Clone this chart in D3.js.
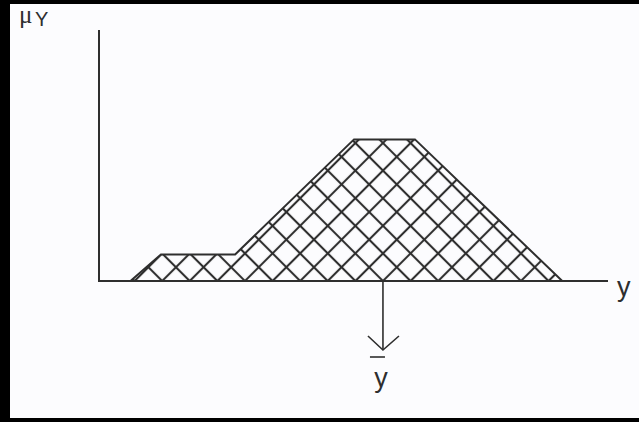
<!DOCTYPE html>
<html>
<head>
<meta charset="utf-8">
<script src="https://cdn.jsdelivr.net/npm/d3@7"></script>
<style>
  html, body { margin: 0; padding: 0; background: #fcfcfe; }
  svg { display: block; }
</style>
</head>
<body>
<div id="chart"></div>
<script>
// Aggregated output membership function: breakpoints on the output universe y
const yPoints = [6, 12, 26.6, 50, 62, 91];
// Membership degree at each breakpoint
const muPoints = [0, 0.15, 0.15, 0.8, 0.8, 0];
// Defuzzified (centroid) output value
const centroid = [55.7];
// Axis labels
const axisLabels = ["μ", "Y", "y"];

const W = 639, H = 422;
const ink = "#2e2e2e";

const svg = d3.select("#chart").append("svg")
  .attr("width", W).attr("height", H);

svg.append("rect").attr("width", W).attr("height", H).attr("fill", "#fcfcfe");

// frame
svg.append("rect").attr("x", 0).attr("y", 0).attr("width", 10).attr("height", H).attr("fill", "#000");
svg.append("rect").attr("x", 0).attr("y", 0).attr("width", W).attr("height", 4).attr("fill", "#000");
svg.append("rect").attr("x", 0).attr("y", H - 4).attr("width", W).attr("height", 4).attr("fill", "#000");

const x = d3.scaleLinear().domain([0, 100]).range([100, 608]);
const y = d3.scaleLinear().domain([0, 1]).range([281, 104]);

// crosshatch pattern (±45° lines); lines drawn on both pattern edges so they keep full width
const spacing = 27.6 / Math.SQRT2;
const defs = svg.append("defs");
const pat = defs.append("pattern")
  .attr("id", "hatch")
  .attr("patternUnits", "userSpaceOnUse")
  .attr("width", spacing).attr("height", spacing)
  .attr("patternTransform", `translate(${x(centroid[0])},${y(0)}) rotate(45)`);
[0, spacing].forEach(o => {
  pat.append("line").attr("x1", 0).attr("y1", o).attr("x2", spacing).attr("y2", o)
    .attr("stroke", ink).attr("stroke-width", 2.1);
  pat.append("line").attr("x1", o).attr("y1", 0).attr("x2", o).attr("y2", spacing)
    .attr("stroke", ink).attr("stroke-width", 2.1);
});

const pts = yPoints.map((v, i) => [v, muPoints[i]]);
const line = d3.line().x(d => x(d[0])).y(d => y(d[1]));

svg.append("path")
  .attr("d", line(pts) + "Z")
  .attr("fill", "url(#hatch)")
  .attr("stroke", ink)
  .attr("stroke-width", 2)
  .attr("stroke-linejoin", "miter");

// axes
svg.append("line")
  .attr("x1", x(0) - 1).attr("y1", 30).attr("x2", x(0) - 1).attr("y2", y(0))
  .attr("stroke", ink).attr("stroke-width", 2);
svg.append("line")
  .attr("x1", x(0) - 2).attr("y1", y(0)).attr("x2", x(100)).attr("y2", y(0))
  .attr("stroke", ink).attr("stroke-width", 2);

// centroid arrow
const cx = x(centroid[0]);
svg.append("line")
  .attr("x1", cx).attr("y1", y(0)).attr("x2", cx).attr("y2", 350)
  .attr("stroke", ink).attr("stroke-width", 1.6);
svg.append("path")
  .attr("d", `M${cx - 15},336 L${cx},350 L${cx + 16},336`)
  .attr("fill", "none").attr("stroke", ink).attr("stroke-width", 1.6);

// labels
svg.append("text").attr("x", 19).attr("y", 22.5)
  .attr("font-family", "Liberation Serif").attr("font-size", 25)
  .attr("fill", ink).text(axisLabels[0]);
svg.append("text").attr("x", 35).attr("y", 26)
  .attr("font-family", "Liberation Sans").attr("font-size", 20)
  .attr("fill", ink).text(axisLabels[1]);
svg.append("text").attr("x", 617).attr("y", 296)
  .attr("font-family", "Liberation Sans").attr("font-size", 27)
  .attr("fill", ink).text(axisLabels[2]);
svg.append("text").attr("x", cx - 2).attr("y", 387)
  .attr("text-anchor", "middle")
  .attr("font-family", "Liberation Sans").attr("font-size", 27)
  .attr("fill", ink).text(axisLabels[2]);
svg.append("line")
  .attr("x1", cx - 13).attr("y1", 357).attr("x2", cx + 2).attr("y2", 357)
  .attr("stroke", ink).attr("stroke-width", 1.6);
</script>
</body>
</html>
